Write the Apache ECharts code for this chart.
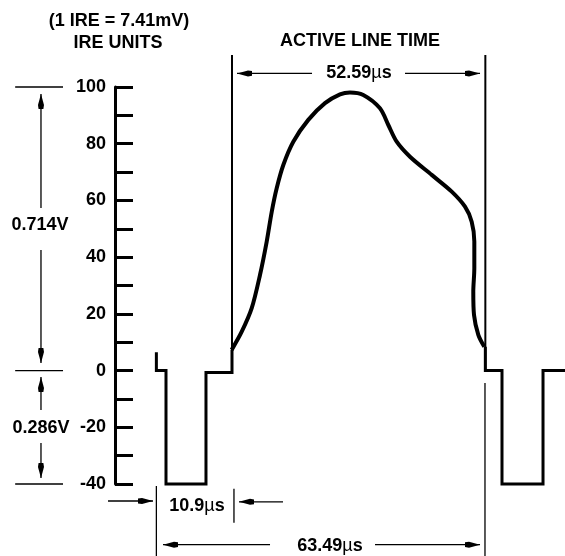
<!DOCTYPE html>
<html><head><meta charset="utf-8">
<script src="https://cdn.jsdelivr.net/npm/echarts@6/dist/echarts.min.js"></script>
<style>html,body{margin:0;padding:0;background:#fff}#c{width:565px;height:556px}</style>
</head><body><div id="c"></div>
<script>
// ---- data (time in diagram units ~ µs, level in IRE) ----
const ireLabelTicks = [-40, -20, 0, 20, 40, 60, 80, 100];
const videoTime = [14.56,16.50,18.43,20.03,21.33,22.30,23.26,24.54,26.47,29.37,32.60,35.50,37.43,40.00,43.23,44.84,46.46,49.03,53.23,57.10,59.67,60.96,61.47,61.47,61.27,61.41,62.24,63.40];
const videoIRE  = [7.3,13.7,22.0,33.7,45.5,56.0,64.3,72.5,80.7,88.4,94.3,97.4,98.1,97.2,92.5,86.6,80.7,75.4,69.0,63.1,57.8,52.5,45.5,36.1,27.8,19.6,12.6,8.4];
const syncLeftTime  = [0, 0, 1.86, 1.86, 9.59, 9.59, 14.62, 14.62];
const syncLeftIRE   = [6.5, 0, 0, -40, -40, -0.7, -0.7, 7.3];
const syncRightTime = [63.6, 63.6, 66.82, 66.82, 74.75, 74.75, 80];
const syncRightIRE  = [8.4, 0, 0, -40, -40, 0, 0];
const activeMarkerTime = [14.62, 63.6];
const activeMarkerIRE  = [-0.7, 111.3];
// reference levels on the left (IRE) and their horizontal extent
const refLevels = [100, 0, -40];
const refLevelTime = [-27.3, -18.05];
// arrows: [fromTime, fromIRE, toTime, toIRE] (head at "to")
const arrowSegs = [
  [-22.31, 57.3, -22.31, 97.5],
  [-22.31, 42.5, -22.31, 2.7],
  [-22.31, -13.9, -22.31, -2.3],
  [-22.31, -25.5, -22.31, -37.9],
  [30.09, 104.8, 15.59, 104.8],
  [48.07, 104.8, 62.57, 104.8],
  [-9.35, -46.0, -0.65, -46.0],
  [24.48, -46.3, 15.97, -46.3],
  [21.97, -61.4, 1.28, -61.4],
  [42.27, -61.4, 62.57, -61.4]
];
// plain extension lines: [time, fromIRE, toIRE]
const extLines = [
  [0, -40.7, -66],
  [15.0, -41.7, -53.7],
  [63.53, -4.4, -66]
];
const labels = {
  ireNote: '(1 IRE = 7.41mV)', ireUnits: 'IRE UNITS', active: 'ACTIVE LINE TIME',
  activeDur: '52.59', syncDur: '10.9', lineDur: '63.49', unit: 'µs', v1: '0.714V', v2: '0.286V'
};

const zip = (a, b) => a.map((v, i) => [v, b[i]]);
const FAM = '"Liberation Sans", Arial, sans-serif';
const FONT = 'bold 18px ' + FAM;
const HEAD = [6, 15];
const HEAD_PATH = 'path://M3,0 L6,11 L5.4,15 L0.6,15 L0,11 Z';

const base = {type:'line', showSymbol:false, symbol:'none', clip:false, silent:true, animation:false};
const thin = {color:'#000', width:1.3};

const series = [
  Object.assign({}, base, {data: zip(syncLeftTime, syncLeftIRE), lineStyle:{color:'#000', width:3, join:'miter'}}),
  Object.assign({}, base, {data: zip(syncRightTime, syncRightIRE), lineStyle:{color:'#000', width:3, join:'miter'}}),
  Object.assign({}, base, {data: zip(videoTime, videoIRE), smooth:0.3, lineStyle:{color:'#000', width:4}}),
  Object.assign({}, base, {data: [[activeMarkerTime[0], activeMarkerIRE[0]], [activeMarkerTime[0], activeMarkerIRE[1]]], lineStyle:{color:'#000', width:2}}),
  Object.assign({}, base, {data: [[activeMarkerTime[1], 0], [activeMarkerTime[1], activeMarkerIRE[1]]], lineStyle:{color:'#000', width:2}})
];
refLevels.forEach(l => series.push(Object.assign({}, base, {data: [[refLevelTime[0], l], [refLevelTime[1], l]], lineStyle: thin})));
extLines.forEach(s => series.push(Object.assign({}, base, {data: [[s[0], s[1]], [s[0], s[2]]], lineStyle: thin})));
arrowSegs.forEach(s => {
  let rot, off;
  if (s[0] === s[2]) {
    if (s[3] > s[1]) { rot = 0; off = [0, HEAD[1] / 2]; } else { rot = 180; off = [0, -HEAD[1] / 2]; }
  } else {
    if (s[2] < s[0]) { rot = 90; off = [HEAD[1] / 2, 0]; } else { rot = -90; off = [-HEAD[1] / 2, 0]; }
  }
  series.push(Object.assign({}, base, {
    showSymbol: true, symbol: 'none',
    itemStyle: {color:'#000'},
    lineStyle: thin,
    data: [
      {value: [s[0], s[1]], symbol: 'none'},
      {value: [s[2], s[3]], symbol: HEAD_PATH, symbolSize: HEAD, symbolKeepAspect: false, symbolRotate: rot, symbolOffset: off}
    ]
  }));
});

function txt(text, x, y) {
  return {type:'text', style:{text, x, y, align:'center', verticalAlign:'middle', font:FONT, fill:'#000'}};
}
function durTxt(num, x, y) {
  return {type:'text', style:{
    text: '{b|' + num + '}{m|' + labels.unit.charAt(0) + '}{b|' + labels.unit.charAt(1) + '}',
    x, y, align:'center', verticalAlign:'middle', fill:'#000',
    rich: {
      b: {font: FONT, fill:'#000'},
      m: {font: 'normal 18px ' + FAM, fill:'#000'}
    }
  }};
}

const chart = echarts.init(document.getElementById('c'));
chart.setOption({
  animation: false,
  grid: {left: 0, right: 0, top: 87, bottom: 72},
  xAxis: {type:'value', min:-30.233, max:79, show:false},
  yAxis: {
    type:'value', min:-40, max:100, interval:10, offset:-115,
    axisLine: {show:true, onZero:false, lineStyle:{color:'#000', width:3}},
    axisTick: {show:true, inside:true, length:18, lineStyle:{color:'#000', width:3}},
    splitLine: {show:false},
    axisLabel: {
      margin: 9, color:'#000', fontSize:18, fontWeight:'bold', fontFamily: FAM,
      formatter: v => ireLabelTicks.includes(v) ? String(v) : ''
    }
  },
  series: series,
  graphic: [
    txt(labels.ireNote, 119, 21),
    txt(labels.ireUnits, 118, 43),
    txt(labels.active, 360, 41),
    durTxt(labels.activeDur, 359, 73),
    durTxt(labels.syncDur, 197, 506),
    durTxt(labels.lineDur, 330, 546),
    txt(labels.v1, 40, 225),
    txt(labels.v2, 41, 428)
  ]
});
</script>
</body></html>
